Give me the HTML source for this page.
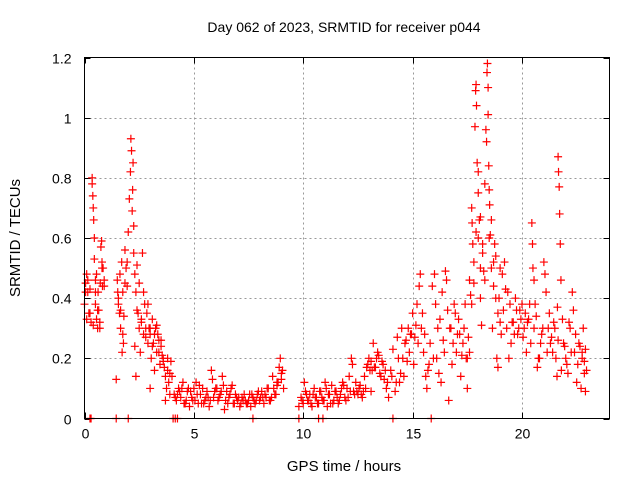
<!DOCTYPE html>
<html><head><meta charset="utf-8"><style>
html,body{margin:0;padding:0;background:#fff}
svg{display:block;font-family:"Liberation Sans",sans-serif}
</style></head><body>
<svg id="chart" width="640" height="480" viewBox="0 0 640 480" xmlns="http://www.w3.org/2000/svg">
<rect width="640" height="480" fill="#fff"/>
<text x="344" y="32" font-size="14" text-anchor="middle">Day 062 of 2023, SRMTID for receiver p044</text>
<text x="0" y="0" font-size="15" text-anchor="middle" transform="translate(20,238) rotate(-90)">SRMTID / TECUs</text>
<text x="344" y="471" font-size="15" text-anchor="middle">GPS time / hours</text>
<g id="grid"></g>
<g id="ticks"></g>
<g id="points"></g>
<rect x="84.5" y="57.5" width="525" height="361" fill="none" stroke="#000" stroke-width="1"/>
</svg>
<script>
const xTicks=[0,5,10,15,20];
const yTicks=[0,0.2,0.4,0.6,0.8,1,1.2];
const yTickLabels=["0","0.2","0.4","0.6","0.8","1","1.2"];
const hours=[
0.0,0.05,0.1,0.1,0.15,0.2,0.25,0.3,0.35,0.35,0.38,0.4,0.42,0.45,0.45,0.5,0.5,0.55,0.55,0.6,0.62,0.65,0.7,0.72,0.75,0.78,0.8,0.82,0.85,0.9,
1.45,1.5,1.52,1.55,1.6,1.62,1.65,1.7,1.72,1.75,1.78,1.8,1.85,1.9,1.95,2.0,2.05,2.1,2.12,2.15,2.18,2.2,2.22,2.25,2.25,2.3,2.3,2.35,2.35,2.4,2.45,2.5,2.5,2.55,2.6,2.65,2.7,2.7,2.75,2.8,2.85,2.9,2.95,3.0,3.0,3.05,3.1,3.15,3.2,3.25,3.3,3.35,3.4,3.45,3.5,3.55,3.6,3.65,3.7,3.7,3.75,3.8,3.85,3.9,3.95,4.0,
4.1,4.2,4.3,4.4,4.5,4.6,4.7,4.8,4.9,5.0,5.05,5.1,5.2,5.3,5.4,5.5,5.6,5.7,5.8,5.85,5.9,6.0,6.1,6.2,6.3,6.35,6.4,6.5,6.6,6.7,6.8,6.9,7.0,7.1,7.2,7.3,7.4,7.5,7.6,7.7,7.8,7.9,8.0,8.1,8.2,8.3,8.4,8.5,8.6,8.7,8.8,8.9,8.95,9.0,9.05,9.1,
4.15,4.35,4.55,4.75,4.95,5.15,5.35,5.55,5.75,5.95,6.15,6.45,6.65,6.85,7.05,7.25,7.45,7.65,7.85,8.05,8.25,8.45,8.65,8.85,
9.8,9.9,10.0,10.1,10.2,10.3,10.4,10.5,10.6,10.7,10.8,10.9,11.0,11.1,11.2,11.3,11.4,11.5,11.6,11.7,11.8,11.9,12.0,12.1,12.2,12.25,12.3,12.4,12.5,12.6,12.7,12.8,12.9,13.0,13.05,13.1,13.2,13.3,13.4,13.5,13.6,13.7,13.8,13.9,
9.95,10.15,10.35,10.55,10.75,10.95,11.15,11.35,11.55,11.75,11.95,12.15,12.35,12.55,12.75,12.95,13.15,13.35,13.55,
14.0,14.1,14.2,14.3,14.4,14.5,14.55,14.6,14.7,14.8,14.85,14.9,15.0,15.05,15.1,15.2,15.3,15.35,15.4,15.5,15.6,15.65,15.7,15.8,15.9,16.0,16.05,16.1,16.2,16.3,16.4,16.5,16.55,16.6,16.65,16.7,16.8,16.9,17.0,17.05,17.1,17.2,17.3,17.4,17.45,
17.5,17.5,17.6,17.65,17.7,17.72,17.75,17.8,17.85,17.88,17.9,17.92,17.95,18.0,18.0,18.05,18.1,18.1,18.15,18.2,18.25,18.3,18.35,18.38,18.4,18.42,18.45,18.45,18.48,18.5,18.52,18.55,18.6,18.65,18.7,18.75,18.8,18.85,18.9,18.95,19.0,19.1,19.2,19.25,19.3,19.4,19.5,19.6,19.7,19.8,19.9,20.0,20.1,20.2,20.3,20.4,20.45,20.48,20.5,20.55,20.6,20.7,20.8,20.9,21.0,21.05,21.1,21.2,21.3,21.4,21.5,21.6,21.62,21.65,21.67,21.7,21.72,21.75,21.78,21.8,21.9,22.0,22.1,22.2,22.3,22.35,22.4,22.5,22.55,22.6,22.7,22.75,22.8,22.85,22.9,22.95,
0.25,0.3,1.45,2.0,4.05,4.15,4.25,7.7,9.8,10.7,10.9,14.1,15.85
];
const srmtid=[
.38,.45,.48,.33,.42,.35,.43,.32,.8,.78,.74,.7,.66,.6,.53,.46,.38,.33,.48,.3,.42,.36,.32,.45,.57,.59,.52,.44,.5,.46,
.13,.46,.42,.38,.35,.48,.3,.52,.22,.42,.25,.34,.56,.5,.44,.62,.73,.82,.93,.89,.69,.76,.85,.64,.55,.48,.24,.14,.42,.51,.35,.45,.3,.22,.33,.55,.42,.28,.38,.3,.35,.25,.3,.1,.28,.2,.33,.25,.16,.3,.22,.28,.26,.18,.24,.21,.2,.17,.06,.14,.1,.16,.12,.08,.19,.14,
.08,.06,.1,.07,.12,.05,.09,.04,.07,.1,.06,.12,.05,.08,.1,.06,.09,.04,.16,.13,.07,.1,.06,.08,.14,.11,.03,.09,.07,.1,.05,.08,.06,.04,.07,.08,.05,.06,.04,.07,.05,.08,.06,.09,.05,.07,.1,.06,.14,.08,.12,.17,.2,.13,.16,.1,
.07,.09,.05,.1,.06,.08,.05,.07,.06,.09,.07,.06,.08,.05,.07,.06,.05,.08,.06,.07,.08,.06,.1,.12,
.04,.07,.05,.09,.06,.08,.04,.1,.07,.05,.09,.06,.12,.04,.08,.11,.06,.09,.05,.08,.12,.07,.1,.14,.2,.18,.09,.12,.08,.11,.07,.14,.17,.2,.16,.19,.25,.17,.22,.15,.19,.13,.1,.07,
.06,.08,.05,.07,.09,.06,.08,.05,.07,.1,.06,.09,.08,.1,.09,.18,.16,.2,.14,
.16,.23,.09,.27,.12,.3,.2,.14,.26,.3,.22,.28,.35,.18,.27,.38,.44,.48,.3,.22,.14,.1,.16,.25,.44,.48,.38,.2,.15,.12,.26,.49,.46,.36,.06,.3,.18,.38,.22,.28,.33,.14,.25,.38,.2,
.1,.2,.46,.41,.7,.65,.58,.52,.97,1.09,1.11,1.04,.85,.75,.6,.66,.5,.4,.31,.55,.49,.78,.96,.92,1.15,1.18,1.1,1.01,.84,.76,.71,.61,.5,.3,.44,.58,.54,.2,.17,.4,.32,.48,.52,.43,.3,.2,.25,.32,.4,.28,.36,.38,.3,.22,.33,.25,.65,.58,.5,.46,.38,.17,.2,.28,.52,.48,.42,.3,.25,.22,.3,.14,.37,.87,.82,.77,.68,.58,.46,.16,.25,.2,.15,.3,.42,.36,.22,.12,.18,.25,.1,.22,.3,.19,.09,.16,
0,0,0,0,0,0,0,0,0,0,0,0,0
];
const extraHours=[
0.05,0.15,0.25,0.4,0.5,0.6,0.7,0.8,0.9,1.55,1.65,1.75,1.85,1.95,2.4,2.6,2.8,2.9,3.0,3.1,3.2,3.3,3.4,3.5,3.6,3.8,3.9,
4.25,4.45,4.65,4.85,5.25,5.45,5.65,6.05,6.25,6.55,6.75,6.95,7.15,7.35,7.55,7.75,7.95,8.15,8.35,8.55,8.75,8.8,9.0,
10.05,10.25,10.45,10.65,10.85,11.05,11.25,11.45,11.65,11.85,12.05,12.45,12.65,12.85,13.1,13.25,13.45,13.65,13.75,13.85,
14.05,14.25,14.35,14.45,14.65,14.75,14.95,15.15,15.25,15.45,15.55,15.75,15.95,16.15,16.25,16.35,16.45,16.75,16.85,16.95,17.15,17.25,17.35,17.55,
17.6,17.7,17.8,17.9,18.0,18.1,18.2,18.3,18.5,18.6,18.7,18.8,18.9,19.0,19.05,19.15,19.35,19.45,19.55,19.65,19.75,19.85,19.95,20.05,20.15,20.25,20.35,20.55,20.65,20.75,20.85,20.95,21.15,21.25,21.35,21.45,21.55,21.65,21.85,21.95,22.05,22.15,22.25,22.45,22.65,22.75,22.85,22.9
];
const extraSrmtid=[
.42,.46,.35,.31,.42,.36,.3,.5,.44,.4,.36,.28,.45,.52,.36,.32,.27,.38,.3,.24,.28,.31,.22,.26,.19,.2,.15,
.08,.1,.06,.09,.11,.05,.07,.1,.09,.05,.11,.07,.05,.06,.08,.06,.09,.07,.1,.07,.08,.11,.15,.12,
.06,.08,.05,.07,.1,.05,.09,.06,.11,.07,.09,.08,.1,.09,.17,.21,.18,.16,.12,.14,
.12,.2,.15,.25,.19,.28,.31,.25,.35,.28,.18,.2,.3,.33,.42,.22,.3,.25,.35,.28,.21,.3,.27,.22,
.38,.45,.62,.82,.67,.58,.46,.6,.66,.52,.4,.35,.5,.28,.36,.42,.38,.32,.28,.36,.3,.33,.27,.35,.32,.38,.3,.34,.2,.25,.3,.22,.35,.27,.32,.2,.26,.33,.24,.18,.32,.22,.28,.24,.2,.15,.23,.28
];
const X0=84.5,X1=609.5,Y0=418.5,Y1=57.5,XMAX=24,YMAX=1.2;
function xs(h){return X0+(h/XMAX)*(X1-X0);}
function ys(v){return Y0-(v/YMAX)*(Y0-Y1);}
const NS="http://www.w3.org/2000/svg";
const grid=document.getElementById('grid'),ticks=document.getElementById('ticks'),pts=document.getElementById('points');
function mk(tag,attrs,parent){const e=document.createElementNS(NS,tag);for(const k in attrs)e.setAttribute(k,attrs[k]);parent.appendChild(e);return e;}
xTicks.forEach(t=>{
  const x=Math.round(xs(t))+0.5;
  if(t>0){const g=mk('line',{x1:x,y1:Y1,x2:x,y2:Y0,stroke:'#999','stroke-dasharray':'2,3'},grid);
  
  }
  mk('line',{x1:x,y1:Y0,x2:x,y2:Y0-6,stroke:'#000'},ticks);
  mk('line',{x1:x,y1:Y1,x2:x,y2:Y1+6,stroke:'#000'},ticks);
  const l=mk('text',{x:x,y:Y0+20,'font-size':14,'text-anchor':'middle'},ticks);
  l.textContent=String(t);
  
  
});
yTicks.forEach((t,i)=>{
  const y=Math.round(ys(t))+0.5;
  if(t>0&&t<YMAX){const g=mk('line',{x1:X0,y1:y,x2:X1,y2:y,stroke:'#999','stroke-dasharray':'2,3'},grid);
  
  }
  mk('line',{x1:X0,y1:y,x2:X0+6,y2:y,stroke:'#000'},ticks);
  mk('line',{x1:X1,y1:y,x2:X1-6,y2:y,stroke:'#000'},ticks);
  const l=mk('text',{x:X0-13,y:y+5,'font-size':14,'text-anchor':'end'},ticks);
  l.textContent=yTickLabels[i];
  
  
});
function drawPoint(h,v){
  const x=xs(h),y=ys(v);
  const p=mk('path',{d:`M${x-4},${y}H${x+4}M${x},${y-4}V${y+4}`,stroke:'#f00','stroke-width':1.2,fill:'none'},pts);
  
  
}
for(let i=0;i<hours.length;i++)drawPoint(hours[i],srmtid[i]);
for(let i=0;i<extraHours.length;i++)drawPoint(extraHours[i],extraSrmtid[i]);
</script>
</body></html>
